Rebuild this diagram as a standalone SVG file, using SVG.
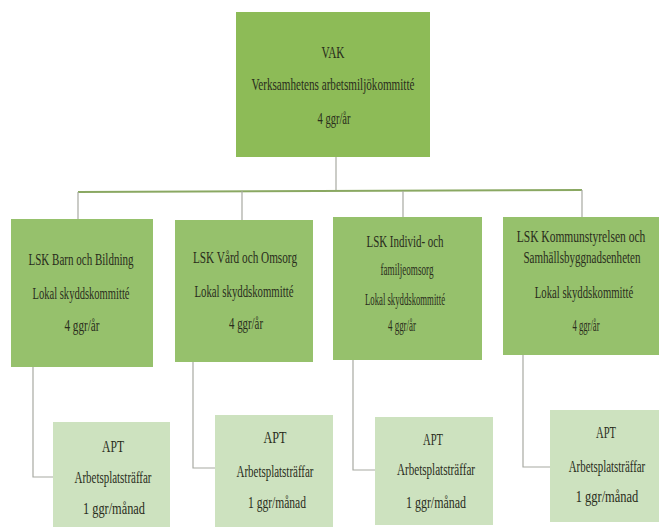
<svg xmlns="http://www.w3.org/2000/svg" width="661" height="527" viewBox="0 0 661 527">
<style>
.vak{fill:#8dbb57}
.lsk{fill:#96c16c}
.apt{fill:#cde2bf}
text{font-family:"Liberation Serif","DejaVu Serif",serif;font-size:16px;fill:#2a2d1c;text-anchor:middle}
.bus{stroke:#8aa862;stroke-width:2;fill:none}
.ln{stroke:#a8aaa2;stroke-width:1.2;fill:none}
</style>
<rect width="661" height="527" fill="#ffffff"/>
<g id="connectors">
<path class="ln" d="M336 157V191"/>
<path class="bus" d="M78 192L582 190"/>
<path class="ln" d="M78 192V219M242 191V220M403 191V217M582 190V217"/>
<path class="ln" d="M33 367V477H53M193 362V468H215M353 360V470H375M523 355V467H550"/>
</g>
<g id="vak">
<rect class="vak" x="236" y="12" width="194" height="145"/>
<text x="333" y="58" textLength="23" lengthAdjust="spacingAndGlyphs">VAK</text>
<text x="333" y="90" textLength="163" lengthAdjust="spacingAndGlyphs">Verksamhetens arbetsmiljökommitté</text>
<text x="334" y="124" textLength="33" lengthAdjust="spacingAndGlyphs">4 ggr/år</text>
</g>
<g id="lsk1">
<rect class="lsk" x="11" y="219" width="142" height="148"/>
<text x="81" y="265" textLength="105" lengthAdjust="spacingAndGlyphs">LSK Barn och Bildning</text>
<text x="81" y="299" textLength="97" lengthAdjust="spacingAndGlyphs">Lokal skyddskommitté</text>
<text x="82" y="331" textLength="35" lengthAdjust="spacingAndGlyphs">4 ggr/år</text>
</g>
<g id="lsk2">
<rect class="lsk" x="175" y="220" width="138" height="142"/>
<text x="245" y="263" textLength="104" lengthAdjust="spacingAndGlyphs">LSK Vård och Omsorg</text>
<text x="244" y="297" textLength="99" lengthAdjust="spacingAndGlyphs">Lokal skyddskommitté</text>
<text x="246" y="329" textLength="34" lengthAdjust="spacingAndGlyphs">4 ggr/år</text>
</g>
<g id="lsk3">
<rect class="lsk" x="333" y="217" width="149" height="143"/>
<text x="405" y="247" textLength="77" lengthAdjust="spacingAndGlyphs">LSK Individ- och</text>
<text x="407" y="275" textLength="53" lengthAdjust="spacingAndGlyphs">familjeomsorg</text>
<text x="405" y="305" textLength="80" lengthAdjust="spacingAndGlyphs">Lokal skyddskommitté</text>
<text x="402" y="331" textLength="28" lengthAdjust="spacingAndGlyphs">4 ggr/år</text>
</g>
<g id="lsk4">
<rect class="lsk" x="503" y="217" width="156" height="138"/>
<text transform="translate(581 242) scale(0.72 1)">LSK Kommunstyrelsen och</text>
<text transform="translate(582 263) scale(0.69 1)">Samhällsbyggnadsenheten</text>
<text transform="translate(584 298) scale(0.67 1)">Lokal skyddskommitté</text>
<text x="586" y="331" textLength="27" lengthAdjust="spacingAndGlyphs">4 ggr/år</text>
</g>
<g id="apt1">
<rect class="apt" x="53" y="422" width="117" height="110"/>
<text x="113" y="452" textLength="22" lengthAdjust="spacingAndGlyphs">APT</text>
<text x="113" y="483" textLength="77" lengthAdjust="spacingAndGlyphs">Arbetsplatsträffar</text>
<text x="114" y="514" textLength="62" lengthAdjust="spacingAndGlyphs">1 ggr/månad</text>
</g>
<g id="apt2">
<rect class="apt" x="215" y="415" width="118" height="117"/>
<text x="275" y="443" textLength="23" lengthAdjust="spacingAndGlyphs">APT</text>
<text x="275" y="477" textLength="77" lengthAdjust="spacingAndGlyphs">Arbetsplatsträffar</text>
<text x="277" y="508" textLength="58" lengthAdjust="spacingAndGlyphs">1 ggr/månad</text>
</g>
<g id="apt3">
<rect class="apt" x="375" y="417" width="118" height="108"/>
<text x="433" y="445" textLength="20" lengthAdjust="spacingAndGlyphs">APT</text>
<text x="436" y="475" textLength="78" lengthAdjust="spacingAndGlyphs">Arbetsplatsträffar</text>
<text x="436" y="508" textLength="60" lengthAdjust="spacingAndGlyphs">1 ggr/månad</text>
</g>
<g id="apt4">
<rect class="apt" x="550" y="410" width="109" height="112"/>
<text x="606" y="438" textLength="20" lengthAdjust="spacingAndGlyphs">APT</text>
<text transform="translate(607 472) scale(0.68 1)">Arbetsplatsträffar</text>
<text transform="translate(607 502) scale(0.78 1)">1 ggr/månad</text>
</g>
</svg>
